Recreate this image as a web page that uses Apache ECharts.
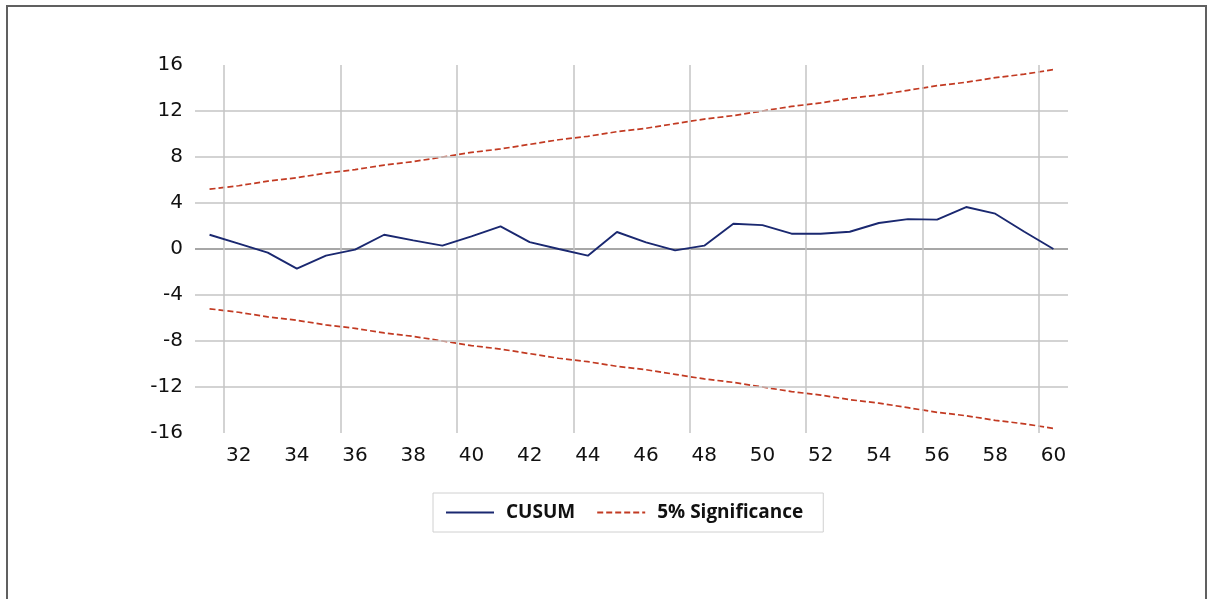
<!DOCTYPE html>
<html>
<head>
<meta charset="utf-8">
<script src="https://cdn.jsdelivr.net/npm/echarts@6/dist/echarts.min.js"></script>
<style>
html,body{margin:0;padding:0;background:#fff;}
#chart{width:1211px;height:599px;}
</style>
</head>
<body>
<div id="chart"></div>
<script>
// Observations (category axis)
const categories = ['31','32','33','34','35','36','37','38','39','40','41','42','43','44','45','46','47','48','49','50','51','52','53','54','55','56','57','58','59','60'];
// CUSUM statistic
const cusum = [1.24, 0.47, -0.32, -1.71, -0.58, -0.06, 1.24, 0.75, 0.29, 1.1, 1.97, 0.6, 0.0, -0.58, 1.48, 0.58, -0.12, 0.29, 2.2, 2.08, 1.33, 1.33, 1.5, 2.26, 2.6, 2.55, 3.65, 3.07, 1.5, 0.0];
// 5% significance bands
const upperBand = [5.2, 5.5, 5.9, 6.2, 6.6, 6.9, 7.3, 7.6, 8.0, 8.4, 8.7, 9.1, 9.5, 9.8, 10.2, 10.5, 10.9, 11.3, 11.6, 12.0, 12.4, 12.7, 13.1, 13.4, 13.8, 14.2, 14.5, 14.9, 15.2, 15.6];
const lowerBand = [-5.2, -5.5, -5.9, -6.2, -6.6, -6.9, -7.3, -7.6, -8.0, -8.4, -8.7, -9.1, -9.5, -9.8, -10.2, -10.5, -10.9, -11.3, -11.6, -12.0, -12.4, -12.7, -13.1, -13.4, -13.8, -14.2, -14.5, -14.9, -15.2, -15.6];
// grid lines: horizontal (value units) and vertical (between observations)
const hGridLines = [-12, -8, -4, 4, 8, 12];
const zeroLine = [0];
const vGridLines = [31.5, 35.5, 39.5, 43.5, 47.5, 51.5, 55.5, 59.5];

const chart = echarts.init(document.getElementById('chart'), null, {renderer: 'canvas'});
const gridColor = '#c4c4c4';
const redColor = '#c23a22';
const blueColor = '#1a2870';

const option = {
  animation: false,
  backgroundColor: '#ffffff',
  graphic: [{
    type: 'rect',
    shape: {x: 7, y: 6, width: 1199, height: 700},
    style: {fill: 'none', stroke: '#606060', lineWidth: 2},
    silent: true,
    z: 100
  }],
  grid: {left: 195, right: 143, top: 65, bottom: 166, containLabel: false},
  legend: {
    data: ['CUSUM', '5% Significance'],
    left: 433,
    top: 493,
    padding: [10, 20, 10, 12],
    itemWidth: 48,
    itemHeight: 14,
    itemGap: 21,
    borderColor: '#d0d0d0',
    borderWidth: 1,
    itemStyle: {opacity: 0},
    textStyle: {fontFamily: 'Open Sans', fontSize: 19, fontWeight: 700, color: '#111', padding: [0, 0, 0, 7]}
  },
  xAxis: [{
    type: 'category',
    data: categories,
    boundaryGap: true,
    axisLine: {show: false},
    axisTick: {show: false},
    axisLabel: {
      interval: function (idx, val) { return (+val) % 2 === 0; },
      fontFamily: 'DejaVu Sans', fontSize: 20, color: '#111', margin: 13
    },
    splitLine: {show: false}
  }, {
    type: 'value',
    min: 30.5, max: 60.5,
    show: false,
    splitLine: {show: false}
  }],
  yAxis: {
    type: 'value',
    min: -16, max: 16, interval: 4,
    axisLine: {show: false},
    axisTick: {show: false},
    splitLine: {show: false},
    axisLabel: {fontFamily: 'DejaVu Sans', fontSize: 20, color: '#111', margin: 12}
  },
  series: [
    {
      name: 'hgrid', type: 'line', data: [], z: 1, silent: true,
      markLine: {
        silent: true, symbol: 'none', label: {show: false},
        lineStyle: {color: gridColor, width: 1.5, type: 'solid'},
        data: hGridLines.map(v => ({yAxis: v})).concat(zeroLine.map(v => ({yAxis: v, lineStyle: {color: '#8a8a8a', width: 1.5, type: 'solid'}})))
      }
    },
    {
      name: 'vgrid', type: 'line', data: [], xAxisIndex: 1, z: 1, silent: true,
      markLine: {
        silent: true, symbol: 'none', label: {show: false},
        lineStyle: {color: gridColor, width: 1.5, type: 'solid'},
        data: vGridLines.map(v => ({xAxis: v}))
      }
    },
    {
      name: 'CUSUM', type: 'line', data: cusum, symbol: 'none', z: 5,
      lineStyle: {color: blueColor, width: 1.9},
      itemStyle: {color: blueColor}
    },
    {
      name: '5% Significance', type: 'line', data: upperBand, symbol: 'none', z: 4,
      lineStyle: {color: redColor, width: 1.7, type: [6, 3]},
      itemStyle: {color: redColor}
    },
    {
      name: '5% Significance', type: 'line', data: lowerBand, symbol: 'none', z: 4,
      lineStyle: {color: redColor, width: 1.7, type: [6, 3]},
      itemStyle: {color: redColor}
    }
  ]
};
chart.setOption(option);
</script>
</body>
</html>
